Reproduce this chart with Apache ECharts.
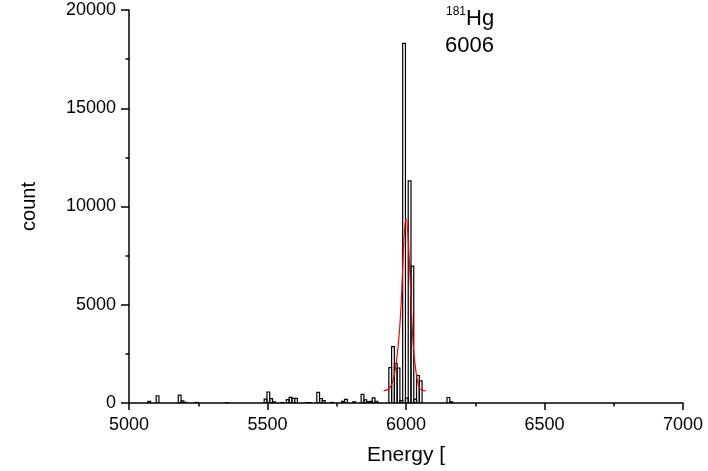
<!DOCTYPE html>
<html>
<head>
<meta charset="utf-8">
<script src="https://cdn.jsdelivr.net/npm/echarts@6/dist/echarts.min.js"></script>
<style>
html,body{margin:0;padding:0;background:#fff;}
#chart{width:708px;height:471px;}
</style>
</head>
<body>
<div id="chart"></div>
<script>
// Histogram bins: left edge energy (width binWidth) and counts
const binWidth = 10;
const binEdges = [5068, 5098, 5178, 5188, 5198, 5238, 5348,
  5488, 5498, 5508, 5518, 5548, 5568, 5578, 5588, 5598, 5638, 5648,
  5678, 5688, 5698, 5728, 5768, 5778, 5808, 5838, 5848, 5858, 5868, 5878, 5888,
  5938, 5948, 5958, 5968, 5978, 5988, 5998, 6008, 6018, 6028, 6038, 6048,
  6148, 6158];
const binCounts = [80, 370, 400, 110, 30, 30, 15,
  200, 560, 220, 60, 20, 170, 290, 240, 240, 20, 20,
  540, 230, 120, 30, 80, 180, 60, 440, 160, 60, 80, 260, 90,
  1800, 2870, 2000, 1780, 120, 18300, 250, 11300, 6970, 200, 1400, 1130,
  280, 60];

// Red fit curve
const fitEnergy = [5919, 5935, 5948, 5960, 5972, 5981, 5988, 5994, 6001, 6007, 6014, 6020, 6026, 6036, 6048, 6060, 6071];
const fitCount  = [620, 700, 930, 1600, 2950, 4640, 6840, 8690, 9370, 8520, 6670, 4640, 2950, 1600, 760, 640, 620];

const xTicks = [5000, 5500, 6000, 6500, 7000];
const yTicks = [0, 5000, 10000, 15000, 20000];

const FONT = 'Liberation Sans, Arial, Helvetica, sans-serif';

const histData = binEdges.map((e, i) => [e, binCounts[i]]);
const fitData = fitEnergy.map((e, i) => [e, fitCount[i]]);

const chart = echarts.init(document.getElementById('chart'), null, {renderer: 'canvas'});
chart.setOption({
  animation: false,
  backgroundColor: '#fff',
  grid: {left: 129, right: 25, top: 10, bottom: 66},
  xAxis: {
    type: 'value',
    min: xTicks[0], max: xTicks[xTicks.length - 1], interval: 500,
    name: 'Energy [',
    nameLocation: 'middle', nameGap: 42,
    nameTextStyle: {fontFamily: FONT, fontSize: 21, color: '#000'},
    axisLine: {show: true, onZero: false, lineStyle: {color: '#000', width: 1.5}},
    axisTick: {show: true, inside: false, length: 7, lineStyle: {color: '#000', width: 1.5}},
    minorTick: {show: true, splitNumber: 2, length: 3.5, lineStyle: {color: '#000', width: 1.5}},
    axisLabel: {fontFamily: FONT, fontSize: 18, color: '#000', margin: 13, formatter: v => String(v)},
    splitLine: {show: false}
  },
  yAxis: {
    type: 'value',
    min: yTicks[0], max: yTicks[yTicks.length - 1], interval: 5000,
    name: 'count',
    nameLocation: 'middle', nameGap: 90, nameRotate: 90,
    nameTextStyle: {fontFamily: FONT, fontSize: 20, color: '#000'},
    axisLine: {show: true, onZero: false, lineStyle: {color: '#000', width: 1.5}},
    axisTick: {show: true, inside: false, length: 8, lineStyle: {color: '#000', width: 1.5}},
    minorTick: {show: true, splitNumber: 2, length: 3.5, lineStyle: {color: '#000', width: 1.5}},
    axisLabel: {fontFamily: FONT, fontSize: 18, color: '#000', margin: 13, formatter: v => String(v)},
    splitLine: {show: false}
  },
  series: [
    {
      type: 'custom',
      data: histData,
      clip: true,
      renderItem: function (params, api) {
        const e0 = api.value(0), v = api.value(1);
        const pTop = api.coord([e0, v]);
        const pBot = api.coord([e0 + binWidth, 0]);
        return {
          type: 'rect',
          shape: {x: pTop[0], y: pTop[1], width: pBot[0] - pTop[0], height: pBot[1] - pTop[1]},
          style: {fill: 'none', stroke: '#000', lineWidth: 1.2}
        };
      },
      z: 2
    },
    {
      type: 'line',
      data: fitData,
      smooth: 0.35,
      symbol: 'none',
      lineStyle: {color: '#ff0000', width: 1.2},
      z: 3
    }
  ],
  graphic: [
    {type: 'text', left: 446, top: 6, style: {text: '181', font: '12px ' + FONT, fill: '#000'}},
    {type: 'text', left: 466, top: 8, style: {text: 'Hg', font: '22px ' + FONT, fill: '#000'}},
    {type: 'text', left: 445, top: 35, style: {text: '6006', font: '22px ' + FONT, fill: '#000'}}
  ]
});
</script>
</body>
</html>
